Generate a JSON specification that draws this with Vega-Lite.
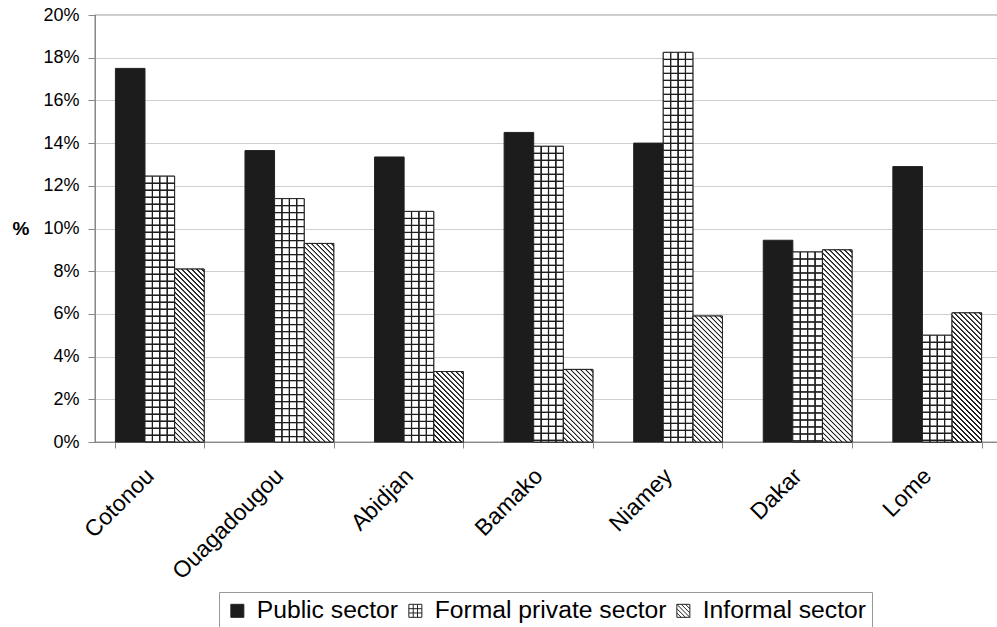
{
"$schema": "https://vega.github.io/schema/vega-lite/v6.json",
"width": 907,
"height": 427,
"autosize": {"type": "none"},
"padding": {"left": 95, "top": 15, "right": -5, "bottom": 185},
"config": {"font": "Liberation Sans", "view": {"stroke": "#333", "strokeWidth": 1.2}},
"data": {"values": [
{"city": "Cotonou", "series": "Public sector", "v": 0.175},
{"city": "Cotonou", "series": "Formal private sector", "v": 0.1245},
{"city": "Cotonou", "series": "Informal sector", "v": 0.081},
{"city": "Ouagadougou", "series": "Public sector", "v": 0.1365},
{"city": "Ouagadougou", "series": "Formal private sector", "v": 0.114},
{"city": "Ouagadougou", "series": "Informal sector", "v": 0.093},
{"city": "Abidjan", "series": "Public sector", "v": 0.1335},
{"city": "Abidjan", "series": "Formal private sector", "v": 0.108},
{"city": "Abidjan", "series": "Informal sector", "v": 0.033},
{"city": "Bamako", "series": "Public sector", "v": 0.145},
{"city": "Bamako", "series": "Formal private sector", "v": 0.1385},
{"city": "Bamako", "series": "Informal sector", "v": 0.034},
{"city": "Niamey", "series": "Public sector", "v": 0.14},
{"city": "Niamey", "series": "Formal private sector", "v": 0.1825},
{"city": "Niamey", "series": "Informal sector", "v": 0.059},
{"city": "Dakar", "series": "Public sector", "v": 0.0945},
{"city": "Dakar", "series": "Formal private sector", "v": 0.089},
{"city": "Dakar", "series": "Informal sector", "v": 0.09},
{"city": "Lome", "series": "Public sector", "v": 0.129},
{"city": "Lome", "series": "Formal private sector", "v": 0.05},
{"city": "Lome", "series": "Informal sector", "v": 0.0605}
]},
"encoding": {
"x": {"field": "city", "type": "nominal", "sort": null,
 "scale": {"paddingInner": 0.315, "paddingOuter": 0.1575},
 "axis": {"title": null, "labelAngle": -45, "labelFontSize": 23, "labelColor": "#000", "labelAlign": "right", "labelBaseline": "alphabetic", "labelOffset": -5, "labelPadding": 29, "tickBand": "extent", "tickSize": 6, "tickColor": "#888", "domainColor": "#888"}},
"xOffset": {"field": "series", "type": "nominal",
 "scale": {"domain": ["Public sector", "Formal private sector", "Informal sector"], "paddingInner": 0, "paddingOuter": 0}},
"y": {"field": "v", "type": "quantitative", "stack": null,
 "scale": {"domain": [0, 0.2], "nice": false},
 "axis": {"title": "%", "titleAngle": 0, "titleFontSize": 19, "titleFontWeight": "bold", "titleColor": "#000", "titleX": -74.5, "titleY": 213, "titleAlign": "center", "titleBaseline": "middle",
  "values": [0, 0.02, 0.04, 0.06, 0.08, 0.1, 0.12, 0.14, 0.16, 0.18, 0.2], "format": ".0%",
  "labelFontSize": 18, "labelColor": "#000", "tickSize": 7, "labelPadding": 9,
  "grid": true, "gridColor": "#cfcfcf", "tickColor": "#888", "domainColor": "#888"}}
},
"layer": [
{"mark": {"type": "bar", "stroke": "#222", "strokeWidth": 1},
 "encoding": {"fill": {"field": "series", "type": "nominal",
  "scale": {"domain": ["Public sector", "Formal private sector", "Informal sector"], "range": ["#1c1c1c", "#ffffff", "#ffffff"]},
  "legend": {"orient": "none", "legendX": 124, "legendY": 577, "direction": "horizontal", "title": null,
    "labelFontSize": 24.7, "labelColor": "#000", "labelLimit": 600, "symbolSize": 169, "symbolOpacity": 1, "symbolStrokeWidth": 1, "symbolStrokeColor": "#222",
    "strokeColor": "#999", "padding": 6, "columnPadding": 4, "labelOffset": 7,
    "encode": {"symbols": {"update": {"stroke": {"value": "#222"}, "strokeWidth": {"value": 1}}}}}}}},
{"transform": [{"filter": "false"}],
 "mark": {"type": "point", "filled": true, "stroke": "#222", "strokeWidth": 1},
 "encoding": {
  "fill": {"field": "series", "type": "nominal",
   "scale": {"domain": ["Public sector", "Formal private sector", "Informal sector"], "range": ["#1c1c1c", "#ffffff", "#ffffff"]},
   "legend": {"orient": "none", "legendX": 124, "legendY": 577, "direction": "horizontal", "title": null,
    "labelFontSize": 24.7, "labelColor": "#000", "labelLimit": 600, "symbolSize": 169, "symbolOpacity": 1, "symbolStrokeWidth": 1, "symbolStrokeColor": "#222",
    "strokeColor": "#999", "padding": 6, "columnPadding": 4, "labelOffset": 7,
    "encode": {"symbols": {"update": {"stroke": {"value": "#222"}, "strokeWidth": {"value": 1}}}}}},
  "shape": {"field": "series", "type": "nominal",
   "scale": {"domain": ["Public sector", "Formal private sector", "Informal sector"], "range": ["square", "M-1,-1H1V1H-1Z M-0.33,-1V1 M0.33,-1V1 M-1,-0.33H1 M-1,0.33H1", "M-1,-1H1V1H-1Z M-1,-1L1,1 M-1,-0.33L0.33,1 M-1,0.33L-0.33,1 M-0.33,-1L1,0.33 M0.33,-1L1,-0.33"]},
   "legend": {"orient": "none", "legendX": 124, "legendY": 577, "direction": "horizontal", "title": null,
    "labelFontSize": 24.7, "labelColor": "#000", "labelLimit": 600, "symbolSize": 169, "symbolOpacity": 1, "symbolStrokeWidth": 1, "symbolStrokeColor": "#222",
    "strokeColor": "#999", "padding": 6, "columnPadding": 4, "labelOffset": 7,
    "encode": {"symbols": {"update": {"stroke": {"value": "#222"}, "strokeWidth": {"value": 1}}}}}}}},
{"transform": [{"filter": "datum.series === 'Formal private sector'"}],
 "mark": {"type": "bar", "clip": true, "y2Offset": 392, "fill": {"gradient": "linear", "x1": 0, "y1": 0, "x2": 0, "y2": 1, "stops": [
{"offset":0,"color":"#fff"},
{"offset":0.0151,"color":"#fff"},{"offset":0.0169,"color":"#1e1e1e"},{"offset":0.0189,"color":"#1e1e1e"},{"offset":0.0207,"color":"#fff"},
{"offset":0.0329,"color":"#fff"},{"offset":0.0347,"color":"#1e1e1e"},{"offset":0.0367,"color":"#1e1e1e"},{"offset":0.0385,"color":"#fff"},
{"offset":0.0508,"color":"#fff"},{"offset":0.0526,"color":"#1e1e1e"},{"offset":0.0546,"color":"#1e1e1e"},{"offset":0.0564,"color":"#fff"},
{"offset":0.0686,"color":"#fff"},{"offset":0.0704,"color":"#1e1e1e"},{"offset":0.0724,"color":"#1e1e1e"},{"offset":0.0742,"color":"#fff"},
{"offset":0.0865,"color":"#fff"},{"offset":0.0883,"color":"#1e1e1e"},{"offset":0.0903,"color":"#1e1e1e"},{"offset":0.0921,"color":"#fff"},
{"offset":0.1043,"color":"#fff"},{"offset":0.1061,"color":"#1e1e1e"},{"offset":0.1081,"color":"#1e1e1e"},{"offset":0.1099,"color":"#fff"},
{"offset":0.1222,"color":"#fff"},{"offset":0.1240,"color":"#1e1e1e"},{"offset":0.1260,"color":"#1e1e1e"},{"offset":0.1278,"color":"#fff"},
{"offset":0.1401,"color":"#fff"},{"offset":0.1419,"color":"#1e1e1e"},{"offset":0.1439,"color":"#1e1e1e"},{"offset":0.1457,"color":"#fff"},
{"offset":0.1579,"color":"#fff"},{"offset":0.1597,"color":"#1e1e1e"},{"offset":0.1617,"color":"#1e1e1e"},{"offset":0.1635,"color":"#fff"},
{"offset":0.1758,"color":"#fff"},{"offset":0.1776,"color":"#1e1e1e"},{"offset":0.1796,"color":"#1e1e1e"},{"offset":0.1814,"color":"#fff"},
{"offset":0.1936,"color":"#fff"},{"offset":0.1954,"color":"#1e1e1e"},{"offset":0.1974,"color":"#1e1e1e"},{"offset":0.1992,"color":"#fff"},
{"offset":0.2115,"color":"#fff"},{"offset":0.2133,"color":"#1e1e1e"},{"offset":0.2153,"color":"#1e1e1e"},{"offset":0.2171,"color":"#fff"},
{"offset":0.2293,"color":"#fff"},{"offset":0.2311,"color":"#1e1e1e"},{"offset":0.2331,"color":"#1e1e1e"},{"offset":0.2349,"color":"#fff"},
{"offset":0.2472,"color":"#fff"},{"offset":0.2490,"color":"#1e1e1e"},{"offset":0.2510,"color":"#1e1e1e"},{"offset":0.2528,"color":"#fff"},
{"offset":0.2651,"color":"#fff"},{"offset":0.2669,"color":"#1e1e1e"},{"offset":0.2689,"color":"#1e1e1e"},{"offset":0.2707,"color":"#fff"},
{"offset":0.2829,"color":"#fff"},{"offset":0.2847,"color":"#1e1e1e"},{"offset":0.2867,"color":"#1e1e1e"},{"offset":0.2885,"color":"#fff"},
{"offset":0.3008,"color":"#fff"},{"offset":0.3026,"color":"#1e1e1e"},{"offset":0.3046,"color":"#1e1e1e"},{"offset":0.3064,"color":"#fff"},
{"offset":0.3186,"color":"#fff"},{"offset":0.3204,"color":"#1e1e1e"},{"offset":0.3224,"color":"#1e1e1e"},{"offset":0.3242,"color":"#fff"},
{"offset":0.3365,"color":"#fff"},{"offset":0.3383,"color":"#1e1e1e"},{"offset":0.3403,"color":"#1e1e1e"},{"offset":0.3421,"color":"#fff"},
{"offset":0.3543,"color":"#fff"},{"offset":0.3561,"color":"#1e1e1e"},{"offset":0.3581,"color":"#1e1e1e"},{"offset":0.3599,"color":"#fff"},
{"offset":0.3722,"color":"#fff"},{"offset":0.3740,"color":"#1e1e1e"},{"offset":0.3760,"color":"#1e1e1e"},{"offset":0.3778,"color":"#fff"},
{"offset":0.3901,"color":"#fff"},{"offset":0.3919,"color":"#1e1e1e"},{"offset":0.3939,"color":"#1e1e1e"},{"offset":0.3957,"color":"#fff"},
{"offset":0.4079,"color":"#fff"},{"offset":0.4097,"color":"#1e1e1e"},{"offset":0.4117,"color":"#1e1e1e"},{"offset":0.4135,"color":"#fff"},
{"offset":0.4258,"color":"#fff"},{"offset":0.4276,"color":"#1e1e1e"},{"offset":0.4296,"color":"#1e1e1e"},{"offset":0.4314,"color":"#fff"},
{"offset":0.4436,"color":"#fff"},{"offset":0.4454,"color":"#1e1e1e"},{"offset":0.4474,"color":"#1e1e1e"},{"offset":0.4492,"color":"#fff"},
{"offset":0.4615,"color":"#fff"},{"offset":0.4633,"color":"#1e1e1e"},{"offset":0.4653,"color":"#1e1e1e"},{"offset":0.4671,"color":"#fff"},
{"offset":0.4793,"color":"#fff"},{"offset":0.4811,"color":"#1e1e1e"},{"offset":0.4831,"color":"#1e1e1e"},{"offset":0.4849,"color":"#fff"},
{"offset":0.4972,"color":"#fff"},{"offset":0.4990,"color":"#1e1e1e"},{"offset":0.5010,"color":"#1e1e1e"},{"offset":0.5028,"color":"#fff"},
{"offset":0.5151,"color":"#fff"},{"offset":0.5169,"color":"#1e1e1e"},{"offset":0.5189,"color":"#1e1e1e"},{"offset":0.5207,"color":"#fff"},
{"offset":0.5329,"color":"#fff"},{"offset":0.5347,"color":"#1e1e1e"},{"offset":0.5367,"color":"#1e1e1e"},{"offset":0.5385,"color":"#fff"},
{"offset":0.5508,"color":"#fff"},{"offset":0.5526,"color":"#1e1e1e"},{"offset":0.5546,"color":"#1e1e1e"},{"offset":0.5564,"color":"#fff"},
{"offset":0.5686,"color":"#fff"},{"offset":0.5704,"color":"#1e1e1e"},{"offset":0.5724,"color":"#1e1e1e"},{"offset":0.5742,"color":"#fff"},
{"offset":0.5865,"color":"#fff"},{"offset":0.5883,"color":"#1e1e1e"},{"offset":0.5903,"color":"#1e1e1e"},{"offset":0.5921,"color":"#fff"},
{"offset":0.6043,"color":"#fff"},{"offset":0.6061,"color":"#1e1e1e"},{"offset":0.6081,"color":"#1e1e1e"},{"offset":0.6099,"color":"#fff"},
{"offset":0.6222,"color":"#fff"},{"offset":0.6240,"color":"#1e1e1e"},{"offset":0.6260,"color":"#1e1e1e"},{"offset":0.6278,"color":"#fff"},
{"offset":0.6401,"color":"#fff"},{"offset":0.6419,"color":"#1e1e1e"},{"offset":0.6439,"color":"#1e1e1e"},{"offset":0.6457,"color":"#fff"},
{"offset":0.6579,"color":"#fff"},{"offset":0.6597,"color":"#1e1e1e"},{"offset":0.6617,"color":"#1e1e1e"},{"offset":0.6635,"color":"#fff"},
{"offset":0.6758,"color":"#fff"},{"offset":0.6776,"color":"#1e1e1e"},{"offset":0.6796,"color":"#1e1e1e"},{"offset":0.6814,"color":"#fff"},
{"offset":0.6936,"color":"#fff"},{"offset":0.6954,"color":"#1e1e1e"},{"offset":0.6974,"color":"#1e1e1e"},{"offset":0.6992,"color":"#fff"},
{"offset":0.7115,"color":"#fff"},{"offset":0.7133,"color":"#1e1e1e"},{"offset":0.7153,"color":"#1e1e1e"},{"offset":0.7171,"color":"#fff"},
{"offset":0.7293,"color":"#fff"},{"offset":0.7311,"color":"#1e1e1e"},{"offset":0.7331,"color":"#1e1e1e"},{"offset":0.7349,"color":"#fff"},
{"offset":0.7472,"color":"#fff"},{"offset":0.7490,"color":"#1e1e1e"},{"offset":0.7510,"color":"#1e1e1e"},{"offset":0.7528,"color":"#fff"},
{"offset":0.7651,"color":"#fff"},{"offset":0.7669,"color":"#1e1e1e"},{"offset":0.7689,"color":"#1e1e1e"},{"offset":0.7707,"color":"#fff"},
{"offset":0.7829,"color":"#fff"},{"offset":0.7847,"color":"#1e1e1e"},{"offset":0.7867,"color":"#1e1e1e"},{"offset":0.7885,"color":"#fff"},
{"offset":0.8008,"color":"#fff"},{"offset":0.8026,"color":"#1e1e1e"},{"offset":0.8046,"color":"#1e1e1e"},{"offset":0.8064,"color":"#fff"},
{"offset":0.8186,"color":"#fff"},{"offset":0.8204,"color":"#1e1e1e"},{"offset":0.8224,"color":"#1e1e1e"},{"offset":0.8242,"color":"#fff"},
{"offset":0.8365,"color":"#fff"},{"offset":0.8383,"color":"#1e1e1e"},{"offset":0.8403,"color":"#1e1e1e"},{"offset":0.8421,"color":"#fff"},
{"offset":0.8543,"color":"#fff"},{"offset":0.8561,"color":"#1e1e1e"},{"offset":0.8581,"color":"#1e1e1e"},{"offset":0.8599,"color":"#fff"},
{"offset":0.8722,"color":"#fff"},{"offset":0.8740,"color":"#1e1e1e"},{"offset":0.8760,"color":"#1e1e1e"},{"offset":0.8778,"color":"#fff"},
{"offset":0.8901,"color":"#fff"},{"offset":0.8919,"color":"#1e1e1e"},{"offset":0.8939,"color":"#1e1e1e"},{"offset":0.8957,"color":"#fff"},
{"offset":0.9079,"color":"#fff"},{"offset":0.9097,"color":"#1e1e1e"},{"offset":0.9117,"color":"#1e1e1e"},{"offset":0.9135,"color":"#fff"},
{"offset":0.9258,"color":"#fff"},{"offset":0.9276,"color":"#1e1e1e"},{"offset":0.9296,"color":"#1e1e1e"},{"offset":0.9314,"color":"#fff"},
{"offset":0.9436,"color":"#fff"},{"offset":0.9454,"color":"#1e1e1e"},{"offset":0.9474,"color":"#1e1e1e"},{"offset":0.9492,"color":"#fff"},
{"offset":0.9615,"color":"#fff"},{"offset":0.9633,"color":"#1e1e1e"},{"offset":0.9653,"color":"#1e1e1e"},{"offset":0.9671,"color":"#fff"},
{"offset":0.9793,"color":"#fff"},{"offset":0.9811,"color":"#1e1e1e"},{"offset":0.9831,"color":"#1e1e1e"},{"offset":0.9849,"color":"#fff"},
{"offset":1,"color":"#fff"}
 ]}},
 "encoding": {"y2": {"field": "v"}}},
{"transform": [{"filter": "datum.series === 'Formal private sector'"}],
 "mark": {"type": "bar", "fill": {"gradient": "linear", "x1": 0, "y1": 0, "x2": 1, "y2": 0, "stops": [
{"offset":0,"color":"rgba(30,30,30,0)"},
{"offset":0.213,"color":"rgba(30,30,30,0)"},{"offset":0.2365,"color":"#1e1e1e"},{"offset":0.2635,"color":"#1e1e1e"},{"offset":0.287,"color":"rgba(30,30,30,0)"},
{"offset":0.463,"color":"rgba(30,30,30,0)"},{"offset":0.4865,"color":"#1e1e1e"},{"offset":0.5135,"color":"#1e1e1e"},{"offset":0.537,"color":"rgba(30,30,30,0)"},
{"offset":0.713,"color":"rgba(30,30,30,0)"},{"offset":0.7365,"color":"#1e1e1e"},{"offset":0.7635,"color":"#1e1e1e"},{"offset":0.787,"color":"rgba(30,30,30,0)"},
{"offset":1,"color":"rgba(30,30,30,0)"}
 ]}}},
{"transform": [{"filter": "datum.series === 'Informal sector'"}],
 "mark": {"type": "bar", "clip": true, "y2Offset": 205, "fill": {"gradient": "linear", "x1": 0, "y1": 1, "x2": 0.1618, "y2": -0.121, "stops": [
{"offset":0,"color":"#fff"},
{"offset":0.0058,"color":"#fff"},{"offset":0.0082,"color":"#1e1e1e"},{"offset":0.0130,"color":"#1e1e1e"},{"offset":0.0154,"color":"#fff"},
{"offset":0.0271,"color":"#fff"},{"offset":0.0295,"color":"#1e1e1e"},{"offset":0.0343,"color":"#1e1e1e"},{"offset":0.0367,"color":"#fff"},
{"offset":0.0484,"color":"#fff"},{"offset":0.0508,"color":"#1e1e1e"},{"offset":0.0556,"color":"#1e1e1e"},{"offset":0.0580,"color":"#fff"},
{"offset":0.0697,"color":"#fff"},{"offset":0.0721,"color":"#1e1e1e"},{"offset":0.0769,"color":"#1e1e1e"},{"offset":0.0793,"color":"#fff"},
{"offset":0.0909,"color":"#fff"},{"offset":0.0933,"color":"#1e1e1e"},{"offset":0.0981,"color":"#1e1e1e"},{"offset":0.1005,"color":"#fff"},
{"offset":0.1122,"color":"#fff"},{"offset":0.1146,"color":"#1e1e1e"},{"offset":0.1194,"color":"#1e1e1e"},{"offset":0.1218,"color":"#fff"},
{"offset":0.1335,"color":"#fff"},{"offset":0.1359,"color":"#1e1e1e"},{"offset":0.1407,"color":"#1e1e1e"},{"offset":0.1431,"color":"#fff"},
{"offset":0.1548,"color":"#fff"},{"offset":0.1572,"color":"#1e1e1e"},{"offset":0.1620,"color":"#1e1e1e"},{"offset":0.1644,"color":"#fff"},
{"offset":0.1761,"color":"#fff"},{"offset":0.1785,"color":"#1e1e1e"},{"offset":0.1833,"color":"#1e1e1e"},{"offset":0.1857,"color":"#fff"},
{"offset":0.1973,"color":"#fff"},{"offset":0.1997,"color":"#1e1e1e"},{"offset":0.2045,"color":"#1e1e1e"},{"offset":0.2069,"color":"#fff"},
{"offset":0.2186,"color":"#fff"},{"offset":0.2210,"color":"#1e1e1e"},{"offset":0.2258,"color":"#1e1e1e"},{"offset":0.2282,"color":"#fff"},
{"offset":0.2399,"color":"#fff"},{"offset":0.2423,"color":"#1e1e1e"},{"offset":0.2471,"color":"#1e1e1e"},{"offset":0.2495,"color":"#fff"},
{"offset":0.2612,"color":"#fff"},{"offset":0.2636,"color":"#1e1e1e"},{"offset":0.2684,"color":"#1e1e1e"},{"offset":0.2708,"color":"#fff"},
{"offset":0.2824,"color":"#fff"},{"offset":0.2848,"color":"#1e1e1e"},{"offset":0.2896,"color":"#1e1e1e"},{"offset":0.2920,"color":"#fff"},
{"offset":0.3037,"color":"#fff"},{"offset":0.3061,"color":"#1e1e1e"},{"offset":0.3109,"color":"#1e1e1e"},{"offset":0.3133,"color":"#fff"},
{"offset":0.3250,"color":"#fff"},{"offset":0.3274,"color":"#1e1e1e"},{"offset":0.3322,"color":"#1e1e1e"},{"offset":0.3346,"color":"#fff"},
{"offset":0.3463,"color":"#fff"},{"offset":0.3487,"color":"#1e1e1e"},{"offset":0.3535,"color":"#1e1e1e"},{"offset":0.3559,"color":"#fff"},
{"offset":0.3675,"color":"#fff"},{"offset":0.3699,"color":"#1e1e1e"},{"offset":0.3747,"color":"#1e1e1e"},{"offset":0.3771,"color":"#fff"},
{"offset":0.3888,"color":"#fff"},{"offset":0.3912,"color":"#1e1e1e"},{"offset":0.3960,"color":"#1e1e1e"},{"offset":0.3984,"color":"#fff"},
{"offset":0.4101,"color":"#fff"},{"offset":0.4125,"color":"#1e1e1e"},{"offset":0.4173,"color":"#1e1e1e"},{"offset":0.4197,"color":"#fff"},
{"offset":0.4314,"color":"#fff"},{"offset":0.4338,"color":"#1e1e1e"},{"offset":0.4386,"color":"#1e1e1e"},{"offset":0.4410,"color":"#fff"},
{"offset":0.4527,"color":"#fff"},{"offset":0.4551,"color":"#1e1e1e"},{"offset":0.4599,"color":"#1e1e1e"},{"offset":0.4623,"color":"#fff"},
{"offset":0.4739,"color":"#fff"},{"offset":0.4763,"color":"#1e1e1e"},{"offset":0.4811,"color":"#1e1e1e"},{"offset":0.4835,"color":"#fff"},
{"offset":0.4952,"color":"#fff"},{"offset":0.4976,"color":"#1e1e1e"},{"offset":0.5024,"color":"#1e1e1e"},{"offset":0.5048,"color":"#fff"},
{"offset":0.5165,"color":"#fff"},{"offset":0.5189,"color":"#1e1e1e"},{"offset":0.5237,"color":"#1e1e1e"},{"offset":0.5261,"color":"#fff"},
{"offset":0.5378,"color":"#fff"},{"offset":0.5402,"color":"#1e1e1e"},{"offset":0.5450,"color":"#1e1e1e"},{"offset":0.5474,"color":"#fff"},
{"offset":0.5590,"color":"#fff"},{"offset":0.5614,"color":"#1e1e1e"},{"offset":0.5662,"color":"#1e1e1e"},{"offset":0.5686,"color":"#fff"},
{"offset":0.5803,"color":"#fff"},{"offset":0.5827,"color":"#1e1e1e"},{"offset":0.5875,"color":"#1e1e1e"},{"offset":0.5899,"color":"#fff"},
{"offset":0.6016,"color":"#fff"},{"offset":0.6040,"color":"#1e1e1e"},{"offset":0.6088,"color":"#1e1e1e"},{"offset":0.6112,"color":"#fff"},
{"offset":0.6229,"color":"#fff"},{"offset":0.6253,"color":"#1e1e1e"},{"offset":0.6301,"color":"#1e1e1e"},{"offset":0.6325,"color":"#fff"},
{"offset":0.6441,"color":"#fff"},{"offset":0.6465,"color":"#1e1e1e"},{"offset":0.6513,"color":"#1e1e1e"},{"offset":0.6537,"color":"#fff"},
{"offset":0.6654,"color":"#fff"},{"offset":0.6678,"color":"#1e1e1e"},{"offset":0.6726,"color":"#1e1e1e"},{"offset":0.6750,"color":"#fff"},
{"offset":0.6867,"color":"#fff"},{"offset":0.6891,"color":"#1e1e1e"},{"offset":0.6939,"color":"#1e1e1e"},{"offset":0.6963,"color":"#fff"},
{"offset":0.7080,"color":"#fff"},{"offset":0.7104,"color":"#1e1e1e"},{"offset":0.7152,"color":"#1e1e1e"},{"offset":0.7176,"color":"#fff"},
{"offset":0.7292,"color":"#fff"},{"offset":0.7316,"color":"#1e1e1e"},{"offset":0.7364,"color":"#1e1e1e"},{"offset":0.7388,"color":"#fff"},
{"offset":0.7505,"color":"#fff"},{"offset":0.7529,"color":"#1e1e1e"},{"offset":0.7577,"color":"#1e1e1e"},{"offset":0.7601,"color":"#fff"},
{"offset":0.7718,"color":"#fff"},{"offset":0.7742,"color":"#1e1e1e"},{"offset":0.7790,"color":"#1e1e1e"},{"offset":0.7814,"color":"#fff"},
{"offset":0.7931,"color":"#fff"},{"offset":0.7955,"color":"#1e1e1e"},{"offset":0.8003,"color":"#1e1e1e"},{"offset":0.8027,"color":"#fff"},
{"offset":0.8144,"color":"#fff"},{"offset":0.8168,"color":"#1e1e1e"},{"offset":0.8216,"color":"#1e1e1e"},{"offset":0.8240,"color":"#fff"},
{"offset":0.8356,"color":"#fff"},{"offset":0.8380,"color":"#1e1e1e"},{"offset":0.8428,"color":"#1e1e1e"},{"offset":0.8452,"color":"#fff"},
{"offset":0.8569,"color":"#fff"},{"offset":0.8593,"color":"#1e1e1e"},{"offset":0.8641,"color":"#1e1e1e"},{"offset":0.8665,"color":"#fff"},
{"offset":0.8782,"color":"#fff"},{"offset":0.8806,"color":"#1e1e1e"},{"offset":0.8854,"color":"#1e1e1e"},{"offset":0.8878,"color":"#fff"},
{"offset":0.8995,"color":"#fff"},{"offset":0.9019,"color":"#1e1e1e"},{"offset":0.9067,"color":"#1e1e1e"},{"offset":0.9091,"color":"#fff"},
{"offset":0.9207,"color":"#fff"},{"offset":0.9231,"color":"#1e1e1e"},{"offset":0.9279,"color":"#1e1e1e"},{"offset":0.9303,"color":"#fff"},
{"offset":0.9420,"color":"#fff"},{"offset":0.9444,"color":"#1e1e1e"},{"offset":0.9492,"color":"#1e1e1e"},{"offset":0.9516,"color":"#fff"},
{"offset":0.9633,"color":"#fff"},{"offset":0.9657,"color":"#1e1e1e"},{"offset":0.9705,"color":"#1e1e1e"},{"offset":0.9729,"color":"#fff"},
{"offset":0.9846,"color":"#fff"},{"offset":0.9870,"color":"#1e1e1e"},{"offset":0.9918,"color":"#1e1e1e"},{"offset":0.9942,"color":"#fff"},
{"offset":1,"color":"#fff"}
 ]}},
 "encoding": {"y2": {"field": "v"}}},
{"transform": [{"filter": "datum.series !== 'Public sector'"}],
 "mark": {"type": "bar", "fillOpacity": 0, "stroke": "#222", "strokeWidth": 1}}
]
}
